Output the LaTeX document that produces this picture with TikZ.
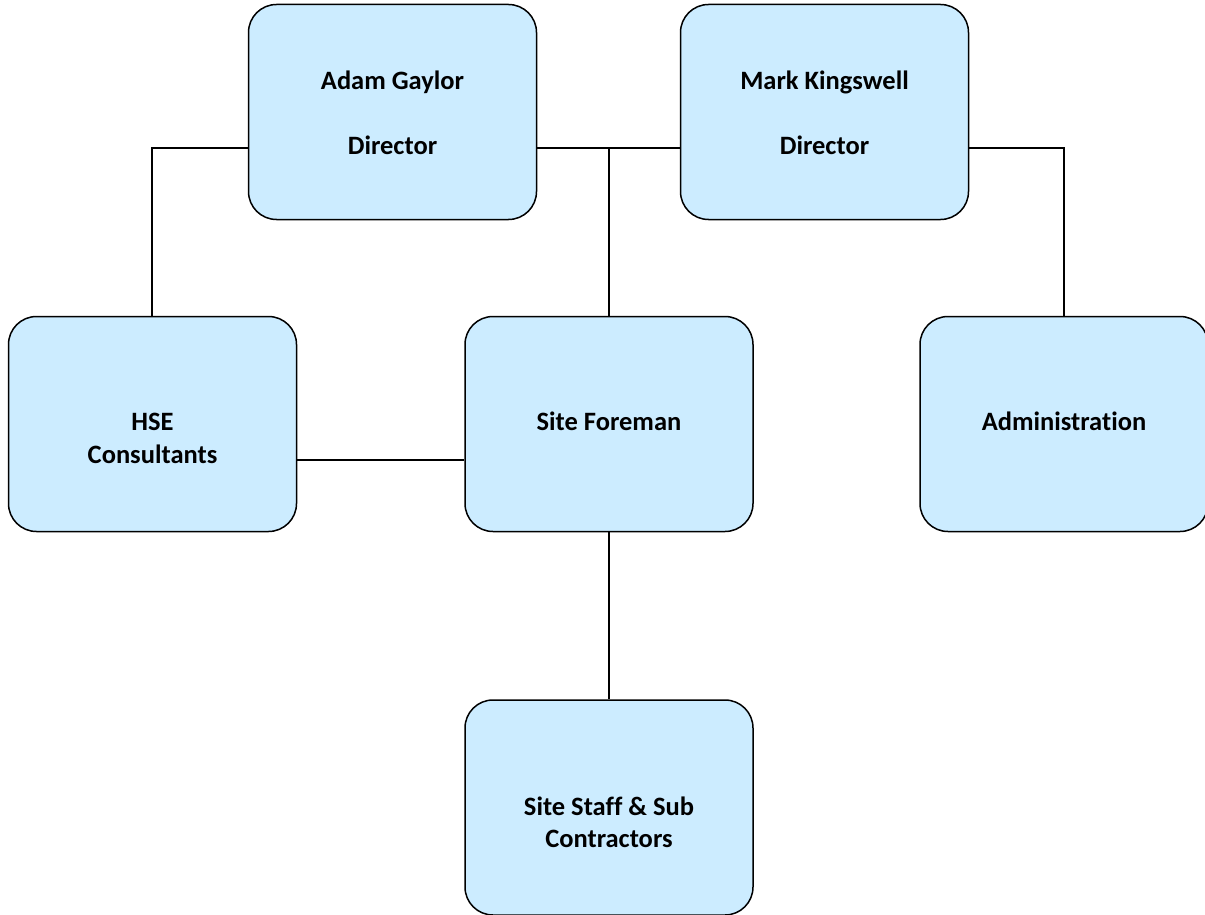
\documentclass[tikz,border=0pt]{standalone}
\usepackage{fontspec}
\setmainfont[Ligatures=NoCommon]{Carlito}
\definecolor{boxfill}{RGB}{204,236,255}
\begin{document}
\begin{tikzpicture}[x=1pt,y=-1pt,
  box/.style={draw=black, line width=1.5pt, fill=boxfill, rounded corners=28pt,
    minimum width=288pt, minimum height=215pt, inner sep=0pt},
  lbl/.style={font=\fontsize{26.5}{32.5}\selectfont\bfseries, align=center, inner sep=0pt},
  conn/.style={draw=black, line width=1.3pt}]
\useasboundingbox (0,0) rectangle (1205,915);
\node[box] (adam) at (392.5,112) {};
\node[box] (mark) at (824.5,112) {};
\node[box] (hse) at (152.5,424) {};
\node[box] (fore) at (609,424) {};
\node[box] (admin) at (1064,424) {};
\node[box] (staff) at (609,807.5) {};
\node[lbl, anchor=base] (adamt) at (392.5,154) {Adam Gaylor\\[32.5pt]Director};
\node[lbl, anchor=base] (markt) at (824.5,154) {Mark Kingswell\\[32.5pt]Director};
\node[lbl, anchor=base] (hset) at (152.5,463) {HSE\\Consultants};
\node[lbl, anchor=base] (foret) at (609,430) {Site Foreman};
\node[lbl, anchor=base] (admint) at (1064,430) {Administration};
\node[lbl, anchor=base] (stafft) at (609,847.5) {Site Staff \& Sub\\Contractors};
\coordinate (j1) at (152,148);
\coordinate (j2) at (609,148);
\coordinate (j3) at (1064,148);
\draw[conn] (adam.west |- j1) -- (j1) -- (hse.north -| j1);
\draw[conn] (adam.east |- j2) -- (mark.west |- j2);
\draw[conn] (j2) -- (fore.north -| j2);
\draw[conn] (mark.east |- j3) -- (j3) -- (admin.north);
\draw[conn] (hse.east |- 0,460) -- (fore.west |- 0,460);
\draw[conn] (fore.south) -- (staff.north);
\end{tikzpicture}
\end{document}
